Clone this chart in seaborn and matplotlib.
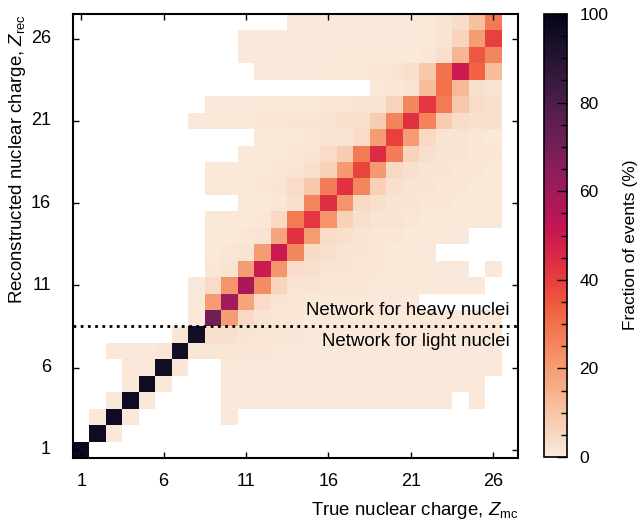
import numpy as np
import pandas as pd
import seaborn as sns
import matplotlib.pyplot as plt
from matplotlib.ticker import MultipleLocator

plt.rcParams['font.family'] = ['Liberation Sans', 'DejaVu Sans']
plt.rcParams['mathtext.fontset'] = 'custom'
plt.rcParams['mathtext.rm'] = 'Liberation Sans'
plt.rcParams['mathtext.it'] = 'Liberation Sans:italic'

N = np.nan
charges = list(range(1, 28))  # Z = 1 .. 27
tick_charges = [1, 6, 11, 16, 21, 26]

# fraction of events (%) ; rows = reconstructed Z (1..27), columns = true Z (1..27)
fraction = [
    [97] + [N] * 26,                                                      # Z_rec = 1
    [N, 96, 0.5] + [N] * 24,                                              # 2
    [N, 1, 96, 0.5, N, N, N, N, N, 0.5] + [N] * 17,                       # 3
    [N, N, 1, 96, 0.5, N, N, N, N] + [0.5] * 14 + [N, 0.5, N, N],         # 4
    [N, N, N, 1, 96, 1, N, N, N] + [0.5] * 16 + [N, N],                   # 5
    [N, N, N, 0.5, 0.8, 95, 1.2, N, N] + [0.5] * 17 + [N],                # 6
    [N, N, 0.5, 0.5, 0.5, 1.2, 95, 1.8, 1.8, 1.8, 1.2, 1.2, 0.8] + [0.5] * 13 + [N],  # 7
    [N] * 6 + [1.2, 95, 3, 3, 2.3, 1.8, 1.8, 1.2] + [0.8] * 12 + [N],     # 8
    [N] * 7 + [0.8, 72, 20, 5, 2, 1.2, 1.2] + [0.8] * 12 + [N],           # 9
    [N] * 7 + [0.8, 20, 60, 18, 4, 2, 1.2, 0.8, 0.8, 0.8, 0.8, 0.5, 0.5, 0.5] + [N] * 6,  # 10
    [N] * 7 + [0.5, 4, 22, 58, 24, 6, 2, 2, 1.2, 1.2, 1.2, 0.8, 0.8, 0.8, 0.8,
               0.5, 0.5, 0.5, N, N],                                      # 11
    [N] * 8 + [1.2, 2, 20, 50, 22, 4, 3, 2, 2, 1.2, 1.2, 0.8, 0.8, 0.8,
               0.5, 0.5, N, 0.5, N],                                      # 12
    [N] * 8 + [0.8, 1.2, 2.3, 20, 50, 25, 5, 3, 2, 2, 1.2, 0.8, 0.8, 0.5] + [N] * 5,  # 13
    [N] * 8 + [0.8, 0.8, 1.2, 2, 18, 43, 20, 4, 3, 2, 1.2, 1.2, 0.8, 0.8,
               0.8, 0.5, N, N, N],                                        # 14
    [N] * 8 + [0.8, 0.8, 0.8, 1.2, 5, 28, 42, 22, 7, 3, 2, 2, 1.2, 0.8,
               0.8, 0.8, 0.8, 0.8, N],                                    # 15
    [N] * 10 + [0.8, 0.8, 1.2, 3, 25, 44, 22, 5, 3, 2, 2, 1.2, 1.2, 0.8,
                0.8, 0.8, N],                                             # 16
    [N] * 8 + [0.8, 0.8, 0.8, 1.2, 2, 4, 9, 27, 43, 25, 7, 3, 2, 2, 1.2,
               1.2, 0.8, 0.8, N],                                         # 17
    [N] * 8 + [0.8, 0.8, 0.8, 0.8, 1.2, 2, 3, 7, 21, 39, 21, 5, 3, 2, 2,
               1.2, 1.2, 0.8, N],                                         # 18
    [N] * 10 + [0.8, 0.8, 0.8, 1.2, 2, 4, 8, 28, 45, 27, 6, 3, 2, 2, 1.2,
                1.2, N],                                                  # 19
    [N] * 11 + [0.8, 0.8, 0.8, 1.2, 2, 2, 4, 20, 40, 20, 5, 2.3, 2, 1.2,
                0.8, N],                                                  # 20
    [N] * 7 + [0.5, 0.8, 0.8, 0.8, 1.2, 1.2, 2, 2, 2.3, 3, 3.5, 8, 26, 43,
               26, 8, 4, 3, 3, N],                                        # 21
    [N] * 8 + [0.5, 0.5, 0.5, 0.8, 0.8, 0.8, 0.8, 1.2, 1.2, 2, 2.3, 6, 25,
               42, 28, 9, 4, 3, N],                                       # 22
    [N] * 18 + [0.8, 1.2, 2.3, 12, 30, 13, 3, 2, N],                      # 23
    [N] * 11 + [0.5, 0.5, 0.5, 0.5, 0.8, 0.8, 0.8, 1.2, 2, 3, 9, 30, 50,
                33, 12, N],                                               # 24
    [N] * 10 + [0.5] * 6 + [0.8] * 5 + [1.2, 3, 14, 35, 25, N],           # 25
    [N] * 10 + [0.5] * 11 + [0.8, 2, 6, 20, 40, N],                       # 26
    [N] * 13 + [0.5] * 8 + [0.8, 2, 4, 11, 28, N],                        # 27
]

df = pd.DataFrame(fraction, index=charges, columns=charges)

fig = plt.figure(figsize=(6.44, 5.26), dpi=100)
ax = fig.add_axes([73 / 644, 68 / 526, 445 / 644, 444 / 526])
cax = fig.add_axes([544 / 644, 69 / 526, 23 / 644, 443 / 526])

sns.heatmap(df, ax=ax, cbar_ax=cax, cmap='rocket_r', vmin=0, vmax=100,
            cbar_kws={'label': 'Fraction of events (%)'})

# heatmap puts row 0 at the top -> flip so Z grows upward
ax.set_xlim(0, len(charges))
ax.set_ylim(0, len(charges))

pos = [charges.index(z) + 0.5 for z in tick_charges]
ax.set_xticks(pos)
ax.set_xticklabels([str(z) for z in tick_charges], rotation=0)
ax.set_yticks(pos)
ax.set_yticklabels([str(z) for z in tick_charges], rotation=0)
ax.tick_params(which='both', direction='in', top=True, right=True,
               length=4, width=1, color='black', labelsize=13)
ax.tick_params(axis='x', pad=11)
ax.tick_params(axis='y', pad=16)
for s in ax.spines.values():
    s.set_visible(True)
    s.set_linewidth(1.5)
    s.set_color('black')

ax.set_xlabel(r'True nuclear charge, $Z_{\rm mc}$', fontsize=13.4)
ax.xaxis.set_label_coords(1.0, -0.119)
ax.xaxis.label.set_ha('right')
ax.xaxis.label.set_va('center')
ax.set_ylabel(r'Reconstructed nuclear charge, $Z_{\rm rec}$', fontsize=13.4)
ax.yaxis.set_label_coords(-0.124, 1.0)
ax.yaxis.label.set_ha('right')
ax.yaxis.label.set_va('center')

# boundary between the two networks (between Z = 8 and Z = 9)
ax.axhline(8, color='black', linestyle=(0, (1, 1.6)), linewidth=2)
ax.text(26.5, 8.94, 'Network for heavy nuclei', ha='right', va='center', fontsize=13.4)
ax.text(26.5, 7.1, 'Network for light nuclei', ha='right', va='center', fontsize=13.4)

cbar = ax.collections[0].colorbar
cbar.set_ticks([0, 20, 40, 60, 80, 100])
cbar.ax.yaxis.set_minor_locator(MultipleLocator(5))
cbar.ax.tick_params(which='major', direction='in', length=7, width=1, labelsize=12.5, pad=9)
cbar.ax.tick_params(which='minor', direction='in', length=4, width=1)
cbar.outline.set_linewidth(1.2)
cbar.outline.set_edgecolor('black')
cbar.ax.yaxis.label.set_size(12.5)
cbar.ax.yaxis.set_label_coords(3.75, 0.48)
cbar.ax.yaxis.label.set_va('center')

fig.savefig('out.png', dpi=100)
